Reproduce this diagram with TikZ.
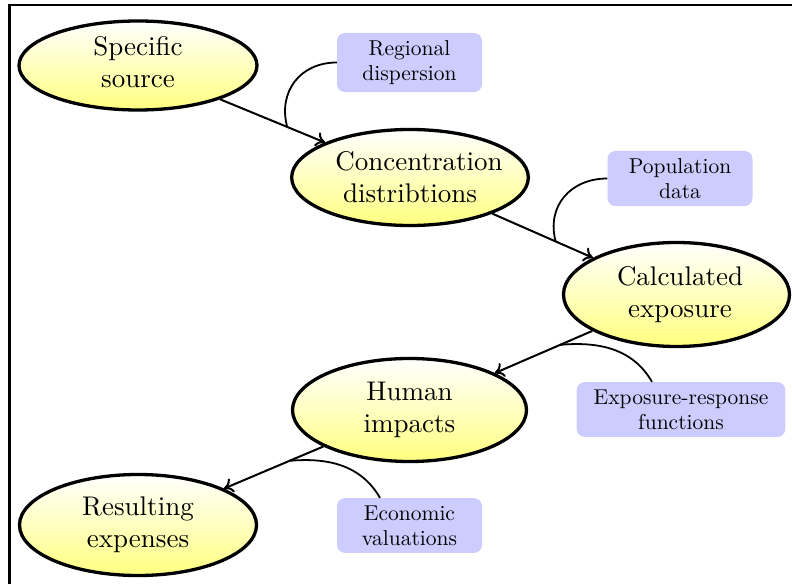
\documentclass[tikz,border=0pt]{standalone}
\usepackage{fontspec}
\setmainfont{lmroman10-regular}[Extension=.otf]
\usetikzlibrary{shapes.geometric,arrows.meta}
\begin{document}
\begin{tikzpicture}[x=1pt,y=1pt,
  stage/.style={ellipse, draw=black, line width=3.3pt, top color=white, bottom color=yellow!50,
    inner sep=0pt, align=center, font=\fontsize{27}{32}\selectfont},
  info/.style={fill=blue!20, rounded corners=8pt, inner xsep=17pt, inner ysep=7.5pt,
    minimum width=145pt, align=center, font=\fontsize{21.5}{25}\selectfont},
  flow/.style={line width=2pt, -{To[length=9pt,width=15pt]}},
  feed/.style={line width=1.8pt},
  frameline/.style={line width=2.5pt}]
\useasboundingbox (0,0) rectangle (792,584);
% frame
\coordinate (fb) at (9.5,0);
\coordinate (ftl) at (9.5,579);
\coordinate (ftr) at (792,579);
\draw[frameline] (fb) -- (ftl) -- (ftr);
% stages
\node[stage, minimum width=238pt, minimum height=89pt] (e1) at (138,518.5) {Specific\\source\rule[-7pt]{0pt}{7pt}};
\node[stage, minimum width=236pt, minimum height=96pt] (e2) at (410,406.5) {\hspace*{9pt}Concentration\hspace*{-9pt}\\distribtions};
\node[stage, minimum width=226pt, minimum height=104pt] (e3) at (676.5,289.5) {\hspace*{3.5pt}Calculated\hspace*{-3.5pt}\\\hspace*{3.5pt}exposure\hspace*{-3.5pt}};
\node[stage, minimum width=234pt, minimum height=103pt] (e4) at (409.5,174) {Human\\impacts};
\node[stage, minimum width=237pt, minimum height=101pt] (e5) at (138,59) {Resulting\\expenses};
% inputs
\node[info] (b1) at (409.5,521.5) {Regional\\dispersion};
\node[info] (b2) at (680,405.5) {Population\\data};
\node[info] (b3) at (681,174.5) {Exposure-response\\functions};
\node[info] (b4) at (409.5,58.5) {Economic\\valuations};
% arrows
\draw[flow] (e1) -- coordinate[pos=0.64] (m1) (e2);
\draw[flow] (e2) -- coordinate[pos=0.63] (m2) (e3);
\draw[flow] (e3) -- coordinate[pos=0.33] (m3) (e4);
\draw[flow] (e4) -- coordinate[pos=0.34] (m4) (e5);
% feeds
\draw[feed] (b1.west) to[out=180,in=105,looseness=1.15] (m1);
\draw[feed] (b2.west) to[out=180,in=105,looseness=1.15] (m2);
\draw[feed] ([xshift=-29pt]b3.north) to[out=120,in=5] (m3);
\draw[feed] ([xshift=-29.5pt]b4.north) to[out=120,in=5] (m4);
\end{tikzpicture}
\end{document}
